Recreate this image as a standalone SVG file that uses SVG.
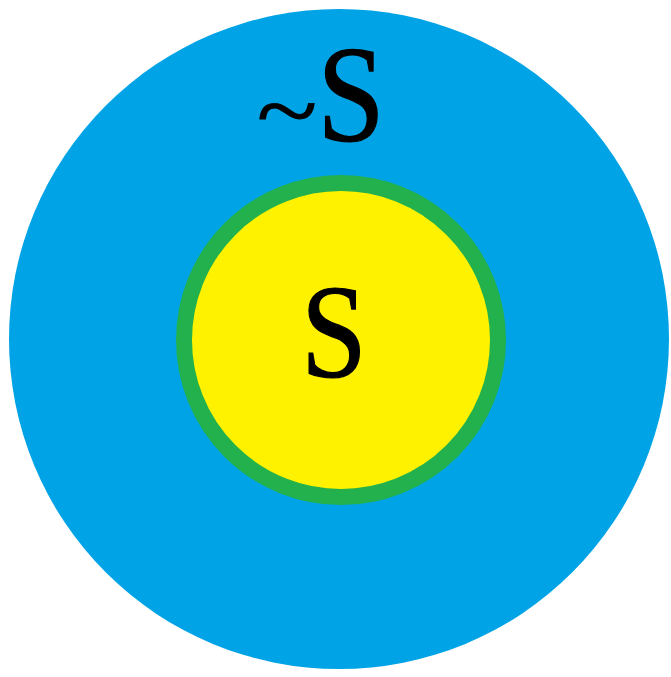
<svg xmlns="http://www.w3.org/2000/svg" width="671" height="677" viewBox="0 0 671 677">
<style>
.lbl{font-family:"Liberation Serif","Times New Roman",serif;fill:#000;stroke:#000;stroke-width:1.2;text-anchor:middle}
</style>
<rect width="671" height="677" fill="#fff"/>
<g id="complement">
<circle cx="339" cy="339" r="330" fill="#00a3e6"/>
<text class="lbl" font-size="118" transform="translate(287,141) scale(0.95,0.78)">~</text>
<text class="lbl" font-size="138" transform="translate(351,141) scale(0.88,1)">S</text>
</g>
<g id="set">
<circle cx="341" cy="340" r="157" fill="#fff200" stroke="#22b14c" stroke-width="16"/>
<text class="lbl" font-size="133" transform="translate(334,377) scale(0.89,1)">S</text>
</g>
<g id="connectors"/>
</svg>
